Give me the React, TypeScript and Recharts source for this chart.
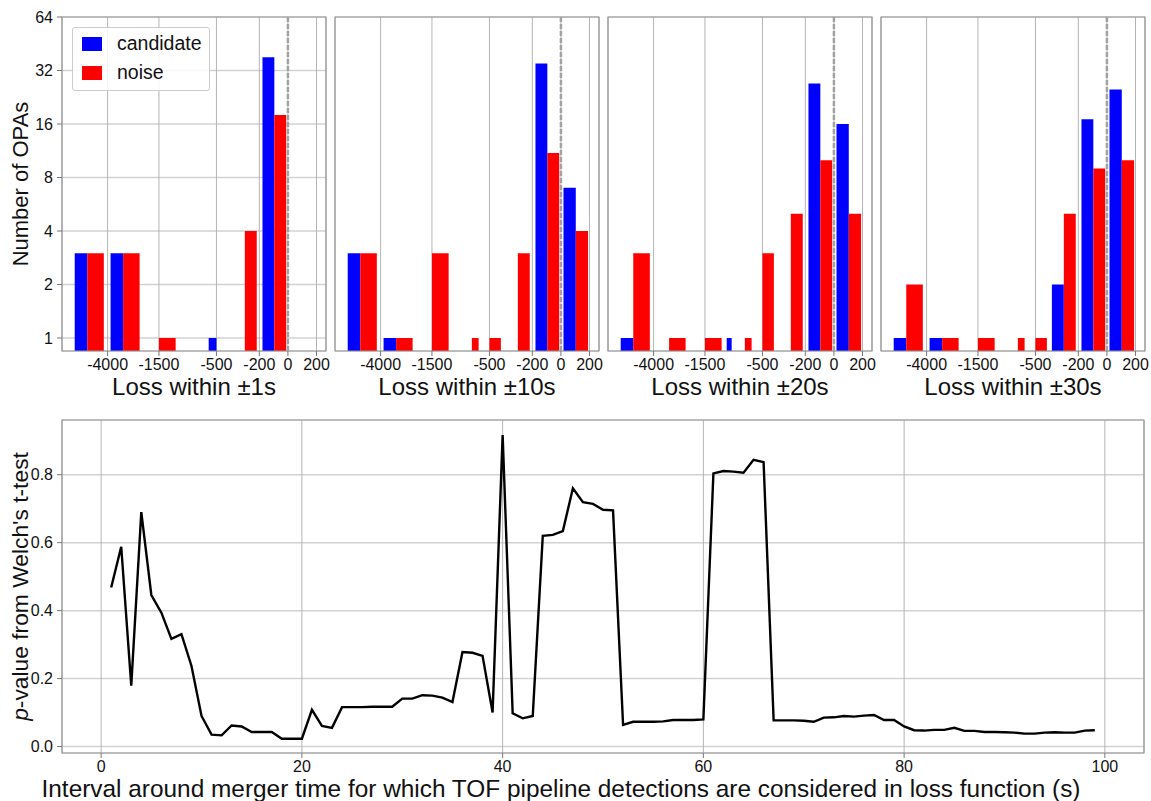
import React from "react";
import { ComposedChart, LineChart, Line, XAxis, YAxis, CartesianGrid, ReferenceArea, ReferenceLine } from "recharts";

// histogram bins (loss values), shared by the four panels
const binLow = [-7500, -3780, -1910, -990, -785, -580, -385, -178, 18];
const binHigh = [-4300, -2170, -1090, -810, -615, -420, -218, -12, 190];

const panelTitles = ["Loss within ±1s", "Loss within ±10s", "Loss within ±20s", "Loss within ±30s"];
const candidateCounts = [
  [3, 3, 0, 0, 0, 1, 0, 38, 0],
  [3, 1, 0, 0, 0, 0, 0, 35, 7],
  [1, 0, 0, 1, 0, 0, 0, 27, 16],
  [1, 1, 0, 0, 0, 0, 2, 17, 25]
];
const noiseCounts = [
  [3, 3, 1, 0, 0, 0, 4, 18, 0],
  [3, 1, 3, 0, 1, 1, 3, 11, 4],
  [3, 1, 1, 0, 1, 3, 5, 10, 5],
  [2, 1, 1, 0, 1, 1, 5, 9, 10]
];
const lossTicks = [-4000, -1500, -500, -200, 0, 200];
const countTicks = [1, 2, 4, 8, 16, 32, 64];

// p-value vs interval (s)
const intervals = [
  1, 2, 3, 4, 5, 6, 7, 8, 9, 10, 11, 12, 13, 14, 15, 16, 17, 18, 19, 20, 21, 22, 23, 24, 25, 26, 27, 28, 29, 30, 31, 32, 33,
  34, 35, 36, 37, 38, 39, 40, 41, 42, 43, 44, 45, 46, 47, 48, 49, 50, 51, 52, 53, 54, 55, 56, 57, 58, 59, 60, 61, 62, 63, 64, 65, 66,
  67, 68, 69, 70, 71, 72, 73, 74, 75, 76, 77, 78, 79, 80, 81, 82, 83, 84, 85, 86, 87, 88, 89, 90, 91, 92, 93, 94, 95, 96, 97, 98, 99
];
const pValues = [
  0.468, 0.588, 0.179, 0.69, 0.446, 0.394, 0.317, 0.331, 0.237, 0.09,
  0.035, 0.033, 0.062, 0.059, 0.043, 0.043, 0.043, 0.023, 0.023, 0.023,
  0.108, 0.061, 0.055, 0.116, 0.116, 0.116, 0.117, 0.117, 0.117, 0.141,
  0.141, 0.151, 0.15, 0.144, 0.131, 0.278, 0.276, 0.267, 0.1, 0.917,
  0.098, 0.083, 0.09, 0.62, 0.623, 0.634, 0.76, 0.719, 0.714, 0.697,
  0.695, 0.064, 0.073, 0.073, 0.073, 0.074, 0.078, 0.078, 0.078, 0.08,
  0.804, 0.811, 0.809, 0.806, 0.844, 0.837, 0.077, 0.077, 0.077, 0.076,
  0.073, 0.085, 0.086, 0.09, 0.088, 0.091, 0.093, 0.078, 0.078, 0.059,
  0.048, 0.047, 0.049, 0.049, 0.055, 0.046, 0.046, 0.043, 0.043, 0.042,
  0.041, 0.038, 0.038, 0.041, 0.042, 0.041, 0.041, 0.047, 0.048
];
const intervalTicks = [0, 20, 40, 60, 80, 100];
const pTicks = [0, 0.2, 0.4, 0.6, 0.8];

// symmetric log transform used for the loss axis (linear inside ±500)
const LIN_T = 500;
const LIN_SCALE = 0.593;
const symlog = (x: number) => {
  const a = Math.abs(x);
  if (a <= LIN_T) return (x / LIN_T) * LIN_SCALE;
  return Math.sign(x) * (LIN_SCALE + Math.log10(a / LIN_T));
};

const X_MIN = -1.8745;
const X_MAX = 0.316;
const Y_MIN = 0.845;
const Y_MAX = 64;

const FONT = '"Liberation Sans", Arial, Helvetica, sans-serif';
const INK = "#111";
const SPINE = "#999999";
const BLUE = "#0000ff";
const RED = "#ff0000";

function VerticalLabel(props: any) {
  const { viewBox, text, dx } = props;
  const cx = viewBox.x + dx;
  const cy = viewBox.y + viewBox.height / 2;
  return (
    <text x={cx} y={cy} transform={`rotate(-90 ${cx} ${cy})`} textAnchor="middle" dominantBaseline="central" fontSize={22} fill={INK}>
      {text}
    </text>
  );
}

function PValueLabel(props: any) {
  const { viewBox } = props;
  const cx = viewBox.x + 20;
  const cy = viewBox.y + viewBox.height / 2;
  return (
    <text x={cx} y={cy} transform={`rotate(-90 ${cx} ${cy})`} textAnchor="middle" dominantBaseline="central" fontSize={22.8} fill={INK}>
      <tspan fontStyle="italic">p</tspan>-value from Welch's t-test
    </text>
  );
}

function IntervalLabel(props: any) {
  const { viewBox } = props;
  const cx = viewBox.x + viewBox.width / 2 - 42;
  const base = viewBox.y + viewBox.height - 4;
  return (
    <text x={cx} y={base} textAnchor="middle" fontSize={24.4} fill={INK}>
      Interval around merger time for which TOF pipeline detections are considered in loss function (s)
    </text>
  );
}

function LossPanel({ index }: { index: number }) {
  const cand = candidateCounts[index];
  const noise = noiseCounts[index];
  const rows = binLow.map((lo, i) => ({ lo, hi: binHigh[i], mid: (lo + binHigh[i]) / 2, cand: cand[i], noise: noise[i] }));
  const first = index === 0;
  const tickPos = lossTicks.map(symlog);

  return (
    <div style={{ position: "absolute", left: 2 + index * 273, top: 0 }}>
      <ComposedChart width={330} height={401} margin={{ top: 17, right: 6, bottom: 0, left: 0 }} data={rows}>
        {rows.map((r, i) =>
          r.cand > 0 ? (
            <ReferenceArea key={"c" + i} x1={symlog(r.lo)} x2={symlog(r.mid)} y1={Y_MIN} y2={r.cand} fill={BLUE} fillOpacity={1} stroke="none" />
          ) : null
        )}
        {rows.map((r, i) =>
          r.noise > 0 ? (
            <ReferenceArea key={"n" + i} x1={symlog(r.mid)} x2={symlog(r.hi)} y1={Y_MIN} y2={r.noise} fill={RED} fillOpacity={1} stroke="none" />
          ) : null
        )}
        <CartesianGrid vertical={false} stroke="#d2d2d2" strokeWidth={1.5} />
        <CartesianGrid horizontal={false} stroke="#b4b4b4" strokeWidth={1} />
        <ReferenceLine x={0} stroke="#a2a2a2" strokeWidth={2.5} strokeDasharray="5 2" />
        <ReferenceArea x1={X_MIN} x2={X_MAX} y1={Y_MIN} y2={Y_MAX} fill="none" stroke={SPINE} strokeWidth={1.2} />
        <XAxis
          type="number"
          dataKey={(r: any) => symlog(r.mid)}
          domain={[X_MIN, X_MAX]}
          allowDataOverflow
          ticks={tickPos}
          interval={0}
          tickFormatter={(v: number) => {
            let best = 0;
            tickPos.forEach((t, i) => {
              if (Math.abs(t - v) < Math.abs(tickPos[best] - v)) best = i;
            });
            return String(lossTicks[best]);
          }}
          height={50}
          axisLine={false}
          tickSize={5}
          tickMargin={3}
          tickLine={{ stroke: "#777" }}
          tick={{ fill: INK, fontSize: 16 }}
          label={{ value: panelTitles[index], position: "insideBottom", offset: 6, fontSize: 24, fill: INK }}
        />
        <YAxis
          scale="log"
          domain={[Y_MIN, Y_MAX]}
          allowDataOverflow
          ticks={countTicks}
          interval={0}
          width={60}
          axisLine={false}
          tickSize={5}
          tickMargin={4}
          tickLine={{ stroke: "#777" }}
          tick={first ? { fill: INK, fontSize: 16 } : false}
          label={first ? (p: any) => <VerticalLabel {...p} text="Number of OPAs" dx={18} /> : undefined}
        />
      </ComposedChart>
      {first && (
        <div
          style={{
            position: "absolute",
            left: 70,
            top: 27,
            width: 136,
            height: 62,
            border: "1px solid #cccccc",
            borderRadius: 3,
            background: "rgba(255,255,255,0.85)",
            fontSize: 19.5,
            color: INK
          }}
        >
          <div style={{ position: "absolute", left: 9, top: 9, width: 20, height: 14, background: BLUE }} />
          <div style={{ position: "absolute", left: 44, top: 4, lineHeight: "22px" }}>candidate</div>
          <div style={{ position: "absolute", left: 9, top: 38, width: 20, height: 14, background: RED }} />
          <div style={{ position: "absolute", left: 44, top: 33, lineHeight: "22px" }}>noise</div>
        </div>
      )}
    </div>
  );
}

function PValueChart() {
  const rows = intervals.map((x, i) => ({ x, p: pValues[i] }));
  return (
    <div style={{ position: "absolute", left: 0, top: 400 }}>
      <LineChart width={1151} height={401} margin={{ top: 20, right: 7, bottom: 0, left: 0 }} data={rows}>
        <CartesianGrid vertical={false} stroke="#d2d2d2" strokeWidth={1.5} />
        <CartesianGrid horizontal={false} stroke="#b4b4b4" strokeWidth={1} />
        <ReferenceArea x1={-3.9} x2={103.9} y1={-0.019} y2={0.961} fill="none" stroke={SPINE} strokeWidth={1.2} />
        <XAxis
          type="number"
          dataKey="x"
          domain={[-3.9, 103.9]}
          allowDataOverflow
          ticks={intervalTicks}
          interval={0}
          height={48}
          axisLine={false}
          tickSize={5}
          tickMargin={3}
          tickLine={{ stroke: "#777" }}
          tick={{ fill: INK, fontSize: 16 }}
          label={(p: any) => <IntervalLabel {...p} />}
        />
        <YAxis
          type="number"
          domain={[-0.019, 0.961]}
          allowDataOverflow
          ticks={pTicks}
          interval={0}
          width={62}
          axisLine={false}
          tickSize={5}
          tickMargin={4}
          tickLine={{ stroke: "#777" }}
          tick={{ fill: INK, fontSize: 16 }}
          tickFormatter={(v: number) => v.toFixed(1)}
          label={(p: any) => <PValueLabel {...p} />}
        />
        <Line type="linear" dataKey="p" stroke="#000" strokeWidth={2.4} dot={false} isAnimationActive={false} />
      </LineChart>
    </div>
  );
}

export default function App() {
  return (
    <div
      style={{
        position: "absolute",
        left: 0,
        top: 0,
        width: 1151,
        height: 801,
        background: "#fff",
        fontFamily: FONT,
        overflow: "hidden"
      }}
    >
      {[0, 1, 2, 3].map((i) => (
        <LossPanel key={i} index={i} />
      ))}
      <PValueChart />
    </div>
  );
}
